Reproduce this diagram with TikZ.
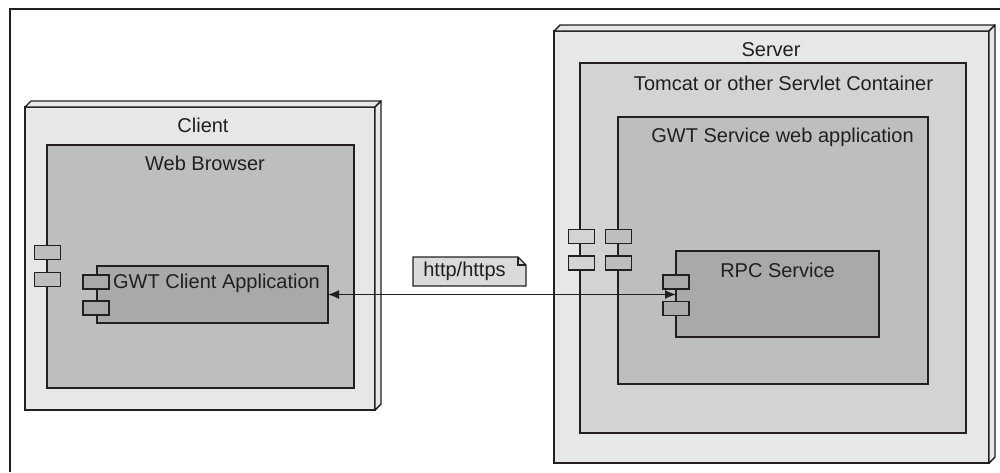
\documentclass[tikz,border=0pt]{standalone}
\usepackage{fontspec}
\setmainfont{Liberation Sans}
\usetikzlibrary{arrows.meta}
\definecolor{ink}{HTML}{231F20}
\definecolor{cA}{HTML}{E6E7E8}
\definecolor{cB}{HTML}{D2D3D5}
\definecolor{cC}{HTML}{BDBEC0}
\definecolor{cD}{HTML}{A8A9AB}
\definecolor{cN}{HTML}{D9DADC}
\begin{document}
\begin{tikzpicture}[x=1pt,y=-1pt,line width=1.4pt,
  box/.style={draw=ink,inner sep=0pt,outer sep=0pt,anchor=north west},
  face/.style={draw=ink,fill=cA,line join=round},
  port/.style={draw=ink,inner sep=0pt,outer sep=0pt,minimum width=26pt,minimum height=14pt},
  lbl/.style={text=ink,font=\fontsize{20}{24}\selectfont,anchor=base,inner sep=0pt}]
\useasboundingbox (0,0) rectangle (1000,472);
\fill[white] (0,0) rectangle (1000,472);
% outer frame
\draw[ink,line width=1.2pt] (1000,9) -- (10,9) -- (10,472);
% Client node (3D)
\node[box,fill=cA,minimum width=350pt,minimum height=303pt] (cl) at (25,107) {};
\filldraw[face] (cl.north west) -- ++(6,-6) -- ++(350,0) -- (cl.north east) -- cycle;
\filldraw[face] (cl.north east) -- ++(6,-6) -- ++(0,303) -- (cl.south east) -- cycle;
% Server node (3D)
\node[box,fill=cA,minimum width=435pt,minimum height=432pt] (sv) at (554,31) {};
\filldraw[face] (sv.north west) -- ++(6,-6) -- ++(435,0) -- (sv.north east) -- cycle;
\filldraw[face] (sv.north east) -- ++(6,-6) -- ++(0,432) -- (sv.south east) -- cycle;
% inner boxes
\node[box,fill=cC,minimum width=307pt,minimum height=243pt] (wb) at (47,145) {};
\node[box,fill=cD,minimum width=231pt,minimum height=57pt] (gca) at (97,266) {};
\node[box,fill=cB,minimum width=386pt,minimum height=370pt] (tc) at (580,63) {};
\node[box,fill=cC,minimum width=310pt,minimum height=267pt] (gs) at (618,117) {};
\node[box,fill=cD,minimum width=203pt,minimum height=86pt] (rpc) at (676,251) {};
% ports
\node[port,fill=cC] (wbp1) at (47.5,252.5) {};
\node[port,fill=cC] (wbp2) at (47.5,279.5) {};
\node[port,fill=cD] (gcap1) at (96,282) {};
\node[port,fill=cD] (gcap2) at (96,308) {};
\node[port,fill=cB] (tcp1) at (581.5,236.5) {};
\node[port,fill=cB] (tcp2) at (581.5,263) {};
\node[port,fill=cC] (gsp1) at (618.5,236.5) {};
\node[port,fill=cC] (gsp2) at (618.5,263) {};
\node[port,fill=cD] (rpcp1) at (676,282) {};
\node[port,fill=cD] (rpcp2) at (676,308.5) {};
% labels
\node[lbl] (tcl) at (203,132) {Client};
\node[lbl] (twb) at (205,170) {Web Browser};
\node[lbl] (tgca) at (216.5,288) {GWT Client Application};
\node[lbl] (tsv) at (771,56) {Server};
\node[lbl] (ttc) at (783.5,90) {Tomcat or other Servlet Container};
\node[lbl] (tgs) at (782.5,142) {GWT Service web application};
\node[lbl] (trpc) at (777.5,277) {RPC Service};
% connector
\draw[ink,line width=1.2pt,{Latex[length=11pt,width=9pt]}-{Latex[length=11pt,width=9pt]}]
  (gca.east) -- (gca.east -| rpc.west);
% note
\filldraw[draw=ink,fill=cN,line width=1.2pt,line join=miter]
  (413,257) -- (518,257) -- (526,265) -- (526,286) -- (413,286) -- cycle;
\draw[ink,line width=1.2pt] (518,257) -- (518,265) -- (526,265);
\node[lbl] (tnote) at (464.5,276) {http/https};
\end{tikzpicture}
\end{document}
